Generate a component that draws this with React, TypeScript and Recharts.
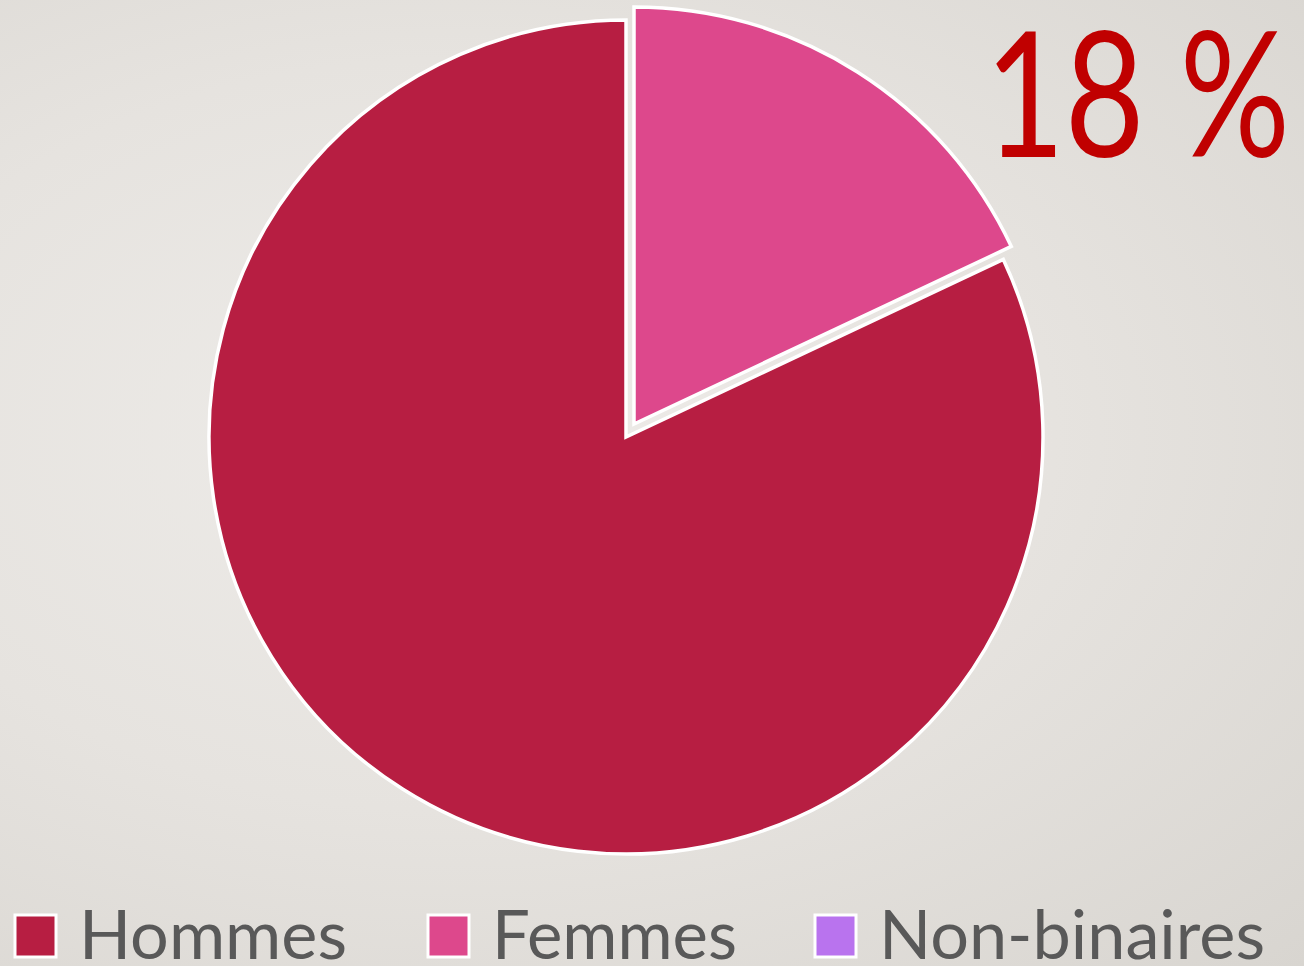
import { PieChart, Pie, Cell, Legend } from "recharts";

const categories = ["Hommes", "Femmes", "Non-binaires"];
const shares = [82, 18, 0];
const colors = ["#B71E42", "#DD488C", "#B973EE"];
const highlight = "18 %";

const data = categories.map((name, i) => ({ name, value: shares[i] }));

// chart margin is 5px, cx/cy are measured inside it
const CX = 621;
const CY = 432;
const R = 417;

// femmes slice is pulled out along its mid-angle
const legendX = [15, 428, 815];
const legendW = [268, 245, 386];

function renderLegend() {
  return (
    <svg width={1304} height={76} style={{ overflow: "visible" }}>
      {categories.map((c, i) => (
        <g key={c}>
          <rect
            x={legendX[i]}
            y={25}
            width={41}
            height={42}
            fill={colors[i]}
            stroke="#fff"
            strokeWidth={3}
          />
          <text
            x={legendX[i] + 64}
            y={69}
            fontFamily="Lato, 'Open Sans', sans-serif"
            fontSize={68}
            fill="#595959"
            textLength={legendW[i]}
            lengthAdjust="spacingAndGlyphs"
          >
            {c}
          </text>
        </g>
      ))}
    </svg>
  );
}

export default function App() {
  return (
    <div
      style={{
        position: "absolute",
        left: 0,
        top: 0,
        width: 1304,
        height: 966,
        background:
          "radial-gradient(ellipse at 35% 45%, #EEECE9 0%, #E6E3DF 50%, #D8D5D0 100%)",
      }}
    >
      <PieChart width={1304} height={966}>
        <Pie
          data={data}
          dataKey="value"
          nameKey="name"
          cx={CX}
          cy={CY}
          outerRadius={R}
          startAngle={90}
          endAngle={450}
          stroke="#fff"
          strokeWidth={3.5}
          isAnimationActive={false}
        >
          {data.map((d, i) => (
            <Cell
              key={d.name}
              fill={i === 1 ? "none" : colors[i]}
              stroke={i === 0 ? "#fff" : "none"}
            />
          ))}
        </Pie>
        <Pie
          data={data}
          dataKey="value"
          nameKey="name"
          cx={CX + 8}
          cy={CY - 13}
          outerRadius={R}
          startAngle={90}
          endAngle={450}
          stroke="#fff"
          strokeWidth={3.5}
          isAnimationActive={false}
          legendType="none"
        >
          {data.map((d, i) => (
            <Cell
              key={d.name}
              fill={i === 1 ? colors[i] : "none"}
              stroke={i === 1 ? "#fff" : "none"}
            />
          ))}
        </Pie>
        <text
          x={985}
          y={157}
          fontFamily="Lato, 'Open Sans', sans-serif"
          fontSize={175}
          fill="#C00000"
          textLength={305}
          lengthAdjust="spacingAndGlyphs"
        >
          {highlight}
        </text>
        <Legend
          content={renderLegend}
          wrapperStyle={{ position: "absolute", left: 0, top: 890, width: 1304 }}
        />
      </PieChart>
    </div>
  );
}
